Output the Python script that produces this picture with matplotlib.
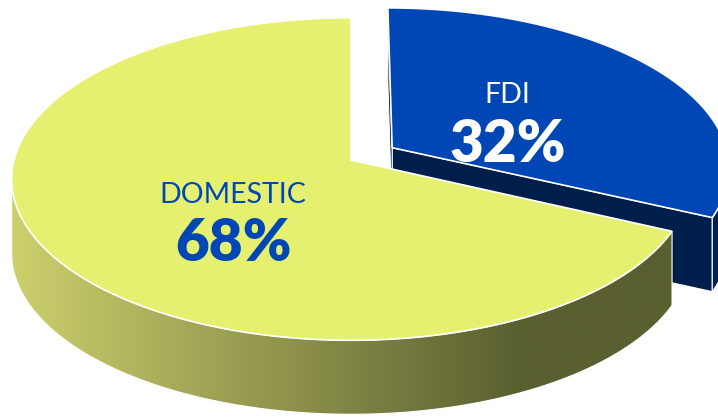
import numpy as np
import matplotlib
matplotlib.use("Agg")
import matplotlib.pyplot as plt
from matplotlib.patches import Polygon

# ---- data ----
categories = ["DOMESTIC", "FDI"]
values = [68, 32]
pct_labels = ["68%", "32%"]
top_colors = ["#E6F070", "#0047B5"]
face_colors = ["#8A9048", "#001E4B"]
text_colors = ["#0047B5", "#FFFFFF"]
explode = [0.0, 0.146]

# ---- layout (projection of a tilted disc) ----
W, H = 718, 417
u0, v0 = 351.0, 160.0      # projected centre of the pie
A, B = 337.0, 159.0        # horizontal / vertical radii
k = 0.118                  # perspective strength
D = 74.0                   # thickness (px)
start_angle = 90.0
cam = np.array([0.0, -1.0 / k])

def proj(x, z, drop=0.0):
    w = 1.0 + k * np.asarray(z)
    return u0 + A * np.asarray(x) / w, v0 - B * np.asarray(z) / w + drop

fig = plt.figure(figsize=(W / 100, H / 100), dpi=100)
ax = fig.add_axes([0, 0, 1, 1])
ax.set_xlim(0, W)
ax.set_ylim(H, 0)
ax.axis("off")

# gradient image for the yellow rim
gx = np.linspace(0, W, 400)
tt = np.clip((gx - 15) / (520 - 15), 0, 1)
c0 = np.array([203, 207, 108]) / 255
c1 = np.array([90, 95, 48]) / 255
grad = (c0[None, :] * (1 - tt[:, None]) + c1[None, :] * tt[:, None])[None, :, :]
grad = np.repeat(grad, 2, axis=0)

total = float(sum(values))
slices = []
a = start_angle
for i, v in enumerate(values):
    span = 360.0 * v / total
    slices.append((i, a, a + span))
    a += span

def mid_z(s):
    i, t1, t2 = s
    m = np.radians((t1 + t2) / 2)
    return np.sin(m)

label_nudge = {0: (5, 23), 1: (1, 7)}

for (i, t1, t2) in sorted(slices, key=mid_z, reverse=True):
    m = np.radians((t1 + t2) / 2)
    ox, oz = explode[i] * np.cos(m), explode[i] * np.sin(m)
    th = np.radians(np.linspace(t1, t2, 400))
    xs, zs = ox + np.cos(th), oz + np.sin(th)
    ut, vt = proj(xs, zs)
    cu, cv = proj(ox, oz)

    # radial faces
    for t, side in ((t1, 1), (t2, -1)):
        tr = np.radians(t)
        if side == 1:
            n = np.array([np.sin(tr), -np.cos(tr)])
        else:
            n = np.array([-np.sin(tr), np.cos(tr)])
        p = np.array([ox + 0.5 * np.cos(tr), oz + 0.5 * np.sin(tr)])
        if np.dot(n, cam - p) > 1e-6:
            ru, rv = proj(ox + np.cos(tr), oz + np.sin(tr))
            poly = [(cu, cv), (ru, rv), (ru, rv + D), (cu, cv + D)]
            ax.add_patch(Polygon(poly, closed=True, facecolor=face_colors[i],
                                 edgecolor="white", lw=0.8, zorder=2))

    # outer rim: visible where the arc moves left-to-right on screen
    du = np.gradient(ut)
    vis = du > 0
    if vis.any():
        idx = np.where(vis)[0]
        runs = np.split(idx, np.where(np.diff(idx) > 1)[0] + 1)
        for r in runs:
            if len(r) < 2:
                continue
            pu, pv = ut[r], vt[r]
            poly = np.column_stack([np.r_[pu, pu[::-1]], np.r_[pv, pv[::-1] + D]])
            if i == 0:
                patch = Polygon(poly, closed=True, facecolor="none",
                                edgecolor="none", zorder=2)
                ax.add_patch(patch)
                im = ax.imshow(grad, extent=(0, W, H, 0), aspect="auto",
                               zorder=2, interpolation="bilinear")
                im.set_clip_path(patch)
                ax.add_patch(Polygon(poly, closed=True, facecolor="none",
                                     edgecolor="white", lw=0.8, zorder=2.1))
            else:
                ax.add_patch(Polygon(poly, closed=True, facecolor="#00214F",
                                     edgecolor="white", lw=0.8, zorder=2))

    # top face
    top = np.column_stack([np.r_[cu, ut], np.r_[cv, vt]])
    ax.add_patch(Polygon(top, closed=True, facecolor=top_colors[i],
                         edgecolor="white", lw=1.2, zorder=3))

    # labels
    lu, lv = proj(ox + 0.42 * np.cos(m), oz + 0.42 * np.sin(m))
    dx, dy = label_nudge[i]
    lu, lv = lu + dx, lv + dy
    ax.text(lu, lv - 25, categories[i], ha="center", va="center",
            fontsize=20.5, color=text_colors[i], family="Lato", zorder=5)
    ax.text(lu, lv + 24, pct_labels[i], ha="center", va="center",
            fontsize=42, fontweight="heavy", color=text_colors[i],
            family="Lato", zorder=5)

fig.savefig("out.png", dpi=100)
